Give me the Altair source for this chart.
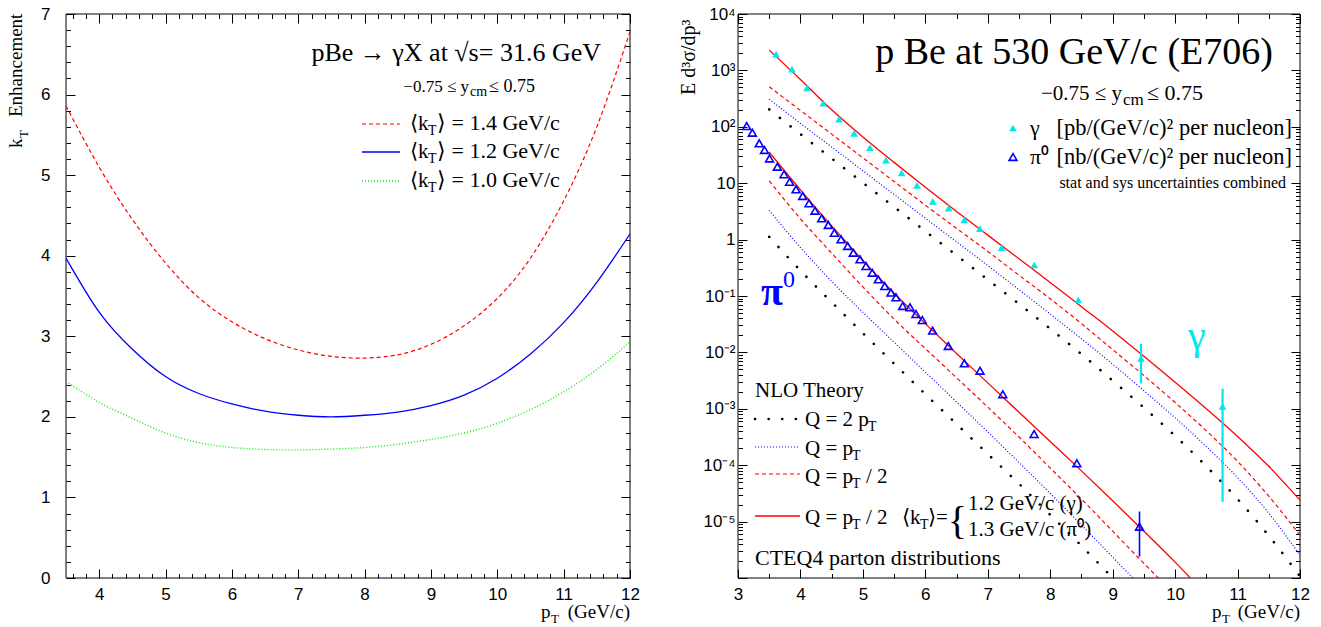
import altair as alt
import pandas as pd

# ---------------- layout (page pixels) ----------------
OX, OY = 66, 14          # top-left of the drawing area on the page
W, H = 1234, 564         # whole drawing area (both panels)
LW = 564                 # left panel width
RX0, RX1 = 672, 1234     # right panel x-range inside drawing area

# ---------------- left panel data: kT enhancement ----------------
kt_pt = [3.5, 4.0, 4.5, 5.0, 5.5, 6.0, 6.5, 7.0, 7.5, 8.0, 8.5, 9.0, 9.5, 10.0, 10.5, 11.0, 11.5, 12.0]
kt_14 = [5.86, 5.10, 4.45, 3.91, 3.48, 3.18, 2.97, 2.83, 2.75, 2.73, 2.77, 2.90, 3.13, 3.47, 3.97, 4.68, 5.60, 6.78]
kt_12 = [3.97, 3.30, 2.84, 2.50, 2.29, 2.16, 2.07, 2.02, 2.00, 2.02, 2.06, 2.14, 2.27, 2.48, 2.78, 3.17, 3.67, 4.27]
kt_10 = [2.44, 2.18, 1.98, 1.80, 1.68, 1.62, 1.595, 1.59, 1.60, 1.62, 1.66, 1.72, 1.80, 1.92, 2.09, 2.31, 2.59, 2.93]

# ---------------- right panel data: E706 cross sections ----------------
g_pt = [3.61, 3.865, 4.105, 4.366, 4.618, 4.86, 5.114, 5.37, 5.62, 5.866, 6.12, 6.374, 6.624, 6.875,
        7.22, 7.745, 8.45, 9.454, 10.76]
g_val = [1950, 1050, 490, 263, 136, 76.7, 42.7, 25.7, 15.3, 9.18, 4.78, 3.63, 2.23, 1.56,
         0.72, 0.355, 0.085, 7.85e-3, 1.10e-3]
g_err_pt = [9.454, 10.76]
g_err_hi = [1.41e-2, 2.29e-3]
g_err_lo = [2.82e-3, 2.24e-5]

p_pt = [3.139, 3.23, 3.34, 3.425, 3.505, 3.63, 3.737, 3.827, 3.93, 4.036, 4.137, 4.233, 4.34, 4.447,
        4.543, 4.65, 4.756, 4.847, 4.954, 5.05, 5.15, 5.247, 5.35, 5.45, 5.53, 5.637, 5.754, 5.85,
        5.952, 6.117, 6.368, 6.625, 6.876, 7.24, 7.742, 8.426, 9.43]
p_val = [103, 78.5, 50.9, 38.9, 27.5, 19.6, 14.4, 10.6, 7.76, 5.93, 4.40, 3.25, 2.38, 1.82,
         1.32, 1.01, 0.771, 0.586, 0.447, 0.340, 0.259, 0.197, 0.150, 0.115, 0.0948, 0.0665, 0.0631, 0.0479,
         0.0375, 0.0243, 0.0130, 6.4e-3, 4.74e-3, 1.81e-3, 3.57e-4, 1.08e-4, 8.13e-6]
p_err_pt = [9.43]
p_err_hi = [1.51e-5]
p_err_lo = [2.40e-6]

th_pt = [3.5, 4.0, 4.5, 5.0, 5.5, 6.0, 6.5, 7.0, 7.5, 8.0, 8.5, 9.0, 9.5, 10.0, 10.5, 11.0, 11.5, 12.0]
g_kt   = [2290, 692, 200, 66.1, 23.4, 8.51, 3.16, 1.20, 0.457, 0.174, 0.0646, 0.024, 8.51e-3, 2.95e-3, 1.0e-3, 3.24e-4, 9.55e-5, 2.40e-5]
g_half = [513, 195, 74.1, 28.2, 10.7, 4.07, 1.58, 0.617, 0.234, 0.0891, 0.0324, 0.0112, 3.89e-3, 1.29e-3, 4.07e-4, 1.17e-4, 2.82e-5, 5.75e-6]
g_one  = [309, 115, 43.7, 16.6, 6.31, 2.40, 0.912, 0.347, 0.129, 0.0479, 0.0174, 6.17e-3, 2.09e-3, 6.92e-4, 2.14e-4, 6.03e-5, 1.41e-5, 2.51e-6]
g_two  = [204, 74.1, 27.5, 10.2, 3.80, 1.41, 0.525, 0.195, 0.0724, 0.0263, 9.33e-3, 3.16e-3, 1.05e-3, 3.31e-4, 9.55e-5, 2.51e-5, 5.62e-6, 1.07e-6]

pth_pt = [3.5, 4.0, 4.5, 5.0, 5.5, 6.0, 6.5, 7.0, 7.5, 8.0, 8.5, 9.0, 9.5, 10.0, 10.5]
p_kt   = [35.5, 7.59, 1.74, 0.427, 0.112, 0.0324, 9.55e-3, 2.88e-3, 8.71e-4, 2.63e-4, 7.94e-5, 2.34e-5, 6.76e-6, 1.91e-6, 5.0e-7]
p_half = [11.0, 2.34, 0.575, 0.145, 0.0389, 0.0117, 3.55e-3, 1.07e-3, 3.16e-4, 8.91e-5, 2.51e-5, 6.76e-6, 1.82e-6, 5.0e-7, 1.4e-7]
p_one  = [3.31, 0.724, 0.182, 0.0513, 0.0151, 4.47e-3, 1.32e-3, 3.89e-4, 1.12e-4, 3.16e-5, 8.71e-6, 2.34e-6, 6.31e-7, 1.7e-7, 4.5e-8]
p_two  = [1.12, 0.282, 0.0776, 0.0219, 6.31e-3, 1.82e-3, 5.37e-4, 1.58e-4, 4.68e-5, 1.32e-5, 3.72e-6, 1.0e-6, 2.69e-7, 7.0e-8, 1.8e-8]

# ---------------- styling ----------------
SERIF = "Liberation Serif"
SANS = "Liberation Sans"
CYAN = "#00e8ee"
BLUE = "#0000ff"
RED = "#ff0000"
GREEN = "#00ee00"
DOT_BLACK = [0.1, 13.5]
DOT_FINE = [1, 2]
DASH = [4, 3]


def xs_left():
    return alt.Scale(domain=[3.5, 12], range=[0, LW], nice=False, zero=False)


def ys_left():
    return alt.Scale(domain=[0, 7], range=[H, 0], nice=False, zero=False)


def xs_right():
    return alt.Scale(domain=[3, 12], range=[RX0, RX1], nice=False, zero=False)


def ys_right():
    return alt.Scale(type="log", domain=[1e-6, 1e4], range=[H, 0], nice=False)


def curve(xv, yv, xs, ys, color, dash=None, width=1.2, cap="butt", interp="monotone"):
    df = pd.DataFrame({"x": xv, "y": yv})
    kw = dict(color=color, strokeWidth=width, clip=True, interpolate=interp, strokeCap=cap)
    if dash is not None:
        kw["strokeDash"] = dash
    return alt.Chart(df).mark_line(**kw).encode(
        x=alt.X("x:Q", scale=xs, axis=None),
        y=alt.Y("y:Q", scale=ys, axis=None),
    )


def ax(orient, values, size, offset, labels=False, **kw):
    return alt.Axis(orient=orient, values=values, tickSize=size, offset=offset, domain=False,
                    grid=False, labels=labels, ticks=True, title=None, tickColor="black",
                    tickWidth=1, labelFlush=False, labelOverlap=False, labelBound=False,
                    labelFont=SANS, labelFontSize=17, labelColor="black", **kw)


def axis_layer(xs, ys, x0, y0, xaxis, yaxis):
    df = pd.DataFrame({"x": [x0], "y": [y0]})
    return alt.Chart(df).mark_point(opacity=0).encode(
        x=alt.X("x:Q", scale=xs, axis=xaxis),
        y=alt.Y("y:Q", scale=ys, axis=yaxis),
    )


layers = []

# frames
frame_df = pd.DataFrame({"a": [0]})
for x0, x1 in [(0, LW), (RX0, RX1)]:
    layers.append(alt.Chart(frame_df).mark_rect(filled=False, color="black", strokeWidth=1).encode(
        x=alt.value(x0), x2=alt.value(x1), y=alt.value(0), y2=alt.value(H)))

# ---------- left panel curves ----------
layers.append(curve(kt_pt, kt_14, xs_left(), ys_left(), RED, DASH, 1.2, interp="natural"))
layers.append(curve(kt_pt, kt_12, xs_left(), ys_left(), BLUE, None, 1.3, interp="natural"))
layers.append(curve(kt_pt, kt_10, xs_left(), ys_left(), GREEN, DOT_FINE, 1.4, interp="natural"))

# ---------- left panel axes ----------
L_xmaj = list(range(4, 13))
L_xmin = [round(3.6 + 0.2 * i, 1) for i in range(43)]
L_xmin = [v for v in L_xmin if v <= 12 and abs(v - round(v)) > 1e-6]
L_ymaj = list(range(0, 8))
L_ymin = [round(0.2 * i, 1) for i in range(35) if i % 5 != 0]

layers.append(axis_layer(xs_left(), ys_left(), 3.5, 0,
                         ax("bottom", L_xmaj, 9, -9, True, labelPadding=8),
                         ax("left", L_ymaj, 9, -9, True, labelPadding=16)))
layers.append(axis_layer(xs_left(), ys_left(), 3.5, 0,
                         ax("bottom", L_xmin, 4.5, -4.5),
                         ax("left", L_ymin, 4.5, -4.5)))
layers.append(axis_layer(xs_left(), ys_left(), 3.5, 0,
                         ax("top", L_xmaj, 9, -9),
                         ax("right", L_ymaj, 9, LW - 9 - W)))
layers.append(axis_layer(xs_left(), ys_left(), 3.5, 0,
                         ax("top", L_xmin, 4.5, -4.5),
                         ax("right", L_ymin, 4.5, LW - 4.5 - W)))

# ---------- right panel curves ----------
XR, YR = xs_right, ys_right
layers.append(curve(th_pt, g_two, XR(), YR(), "black", DOT_BLACK, 2.6, "round"))
layers.append(curve(th_pt, g_one, XR(), YR(), BLUE, DOT_FINE, 1.2))
layers.append(curve(th_pt, g_half, XR(), YR(), RED, DASH, 1.2))
layers.append(curve(th_pt, g_kt, XR(), YR(), RED, None, 1.3))
layers.append(curve(pth_pt, p_two, XR(), YR(), "black", DOT_BLACK, 2.6, "round"))
layers.append(curve(pth_pt, p_one, XR(), YR(), BLUE, DOT_FINE, 1.2))
layers.append(curve(pth_pt, p_half, XR(), YR(), RED, DASH, 1.2))
layers.append(curve(pth_pt, p_kt, XR(), YR(), RED, None, 1.3))

# error bars
gerr = pd.DataFrame({"x": g_err_pt, "hi": g_err_hi, "lo": g_err_lo})
perr = pd.DataFrame({"x": p_err_pt, "hi": p_err_hi, "lo": p_err_lo})
layers.append(alt.Chart(gerr).mark_rule(color=CYAN, strokeWidth=2.2).encode(
    x=alt.X("x:Q", scale=XR(), axis=None), y=alt.Y("hi:Q", scale=YR(), axis=None), y2="lo:Q"))
layers.append(alt.Chart(perr).mark_rule(color=BLUE, strokeWidth=1.6).encode(
    x=alt.X("x:Q", scale=XR(), axis=None), y=alt.Y("hi:Q", scale=YR(), axis=None), y2="lo:Q"))

# points
gdf = pd.DataFrame({"x": g_pt, "y": g_val})
pdf = pd.DataFrame({"x": p_pt, "y": p_val})
layers.append(alt.Chart(gdf).mark_point(shape="triangle-up", filled=True, size=60, color=CYAN, opacity=1).encode(
    x=alt.X("x:Q", scale=XR(), axis=None), y=alt.Y("y:Q", scale=YR(), axis=None)))
layers.append(alt.Chart(pdf).mark_point(shape="triangle-up", filled=False, size=62, color=BLUE,
                                        strokeWidth=1.6, opacity=1).encode(
    x=alt.X("x:Q", scale=XR(), axis=None), y=alt.Y("y:Q", scale=YR(), axis=None)))

# ---------- right panel axes ----------
SUP = {"-": "\u207b", "0": "\u2070", "1": "\u00b9", "2": "\u00b2", "3": "\u00b3",
       "4": "\u2074", "5": "\u2075", "6": "\u2076"}
R_ymaj = [10.0 ** k for k in range(-6, 5)]
R_ymin = [m * 10.0 ** k for k in range(-6, 4) for m in range(2, 10)]
R_xmaj = list(range(3, 13))
R_xmin = [k + 0.5 for k in range(3, 12)]


def lab(k):
    if k == 0:
        return "1"
    if k == 1:
        return "10"
    return "10" + "".join(SUP[c] for c in str(k))


expr = "''"
for k in range(-5, 5):
    expr = f"datum.value > {10.0 ** (k - 0.5)!r} && datum.value < {10.0 ** (k + 0.5)!r} ? '{lab(k)}' : " + expr

layers.append(axis_layer(XR(), YR(), 3, 1,
                         ax("bottom", R_xmaj, 9, -9, True, labelPadding=8),
                         ax("left", R_ymaj, 9, -(RX0 + 9), True, labelPadding=3, labelExpr=expr)))
layers.append(axis_layer(XR(), YR(), 3, 1,
                         ax("bottom", R_xmin, 4.5, -4.5),
                         ax("left", R_ymin, 4.5, -(RX0 + 4.5))))
layers.append(axis_layer(XR(), YR(), 3, 1,
                         ax("top", R_xmaj, 9, -9),
                         ax("right", R_ymaj, 9, -9)))
layers.append(axis_layer(XR(), YR(), 3, 1,
                         ax("top", R_xmin, 4.5, -4.5),
                         ax("right", R_ymin, 4.5, -4.5)))

# ---------- legend samples (page coords) ----------
samples = [
    (362, 400, 124, RED, DASH, 1.2, "butt"),
    (362, 400, 152, BLUE, None, 1.3, "butt"),
    (362, 400, 181, GREEN, DOT_FINE, 1.4, "butt"),
    (755, 800, 419, "black", DOT_BLACK, 2.6, "round"),
    (755, 800, 447, BLUE, DOT_FINE, 1.2, "butt"),
    (755, 800, 474, RED, DASH, 1.2, "butt"),
    (755, 800, 516, RED, None, 1.3, "butt"),
]
for x0, x1, yy, col, dash, wdt, cap in samples:
    kw = dict(color=col, strokeWidth=wdt, strokeCap=cap)
    if dash is not None:
        kw["strokeDash"] = dash
    layers.append(alt.Chart(frame_df).mark_rule(**kw).encode(
        x=alt.value(x0 - OX), x2=alt.value(x1 - OX), y=alt.value(yy - OY)))

layers.append(alt.Chart(frame_df).mark_point(shape="triangle-up", filled=True, size=60, color=CYAN, opacity=1).encode(
    x=alt.value(1013 - OX), y=alt.value(128 - OY)))
layers.append(alt.Chart(frame_df).mark_point(shape="triangle-up", filled=False, size=62, color=BLUE,
                                             strokeWidth=1.6, opacity=1).encode(
    x=alt.value(1013 - OX), y=alt.value(157 - OY)))

# ---------- annotations (page coords): text, x, y(baseline), size, color, align, weight, angle ----------
ann = [
    # left panel
    ("pBe \u2192 \u03b3X at \u221as= 31.6 GeV", 601, 61, 26, "black", "right", "normal", 0),
    ("\u22120.75 \u2264 y", 469, 92, 17, "black", "right", "normal", 0),
    ("cm", 470, 96, 14, "black", "left", "normal", 0),
    ("\u2264 0.75", 489, 92, 18, "black", "left", "normal", 0),
    ("\u27e8k", 410, 130, 21, "black", "left", "normal", 0),
    ("T", 428, 135, 14, "black", "left", "normal", 0),
    ("\u27e9 = 1.4 GeV/c", 437, 130, 22, "black", "left", "normal", 0),
    ("\u27e8k", 410, 158, 21, "black", "left", "normal", 0),
    ("T", 428, 163, 14, "black", "left", "normal", 0),
    ("\u27e9 = 1.2 GeV/c", 437, 158, 22, "black", "left", "normal", 0),
    ("\u27e8k", 410, 187, 21, "black", "left", "normal", 0),
    ("T", 428, 192, 14, "black", "left", "normal", 0),
    ("\u27e9 = 1.0 GeV/c", 437, 187, 22, "black", "left", "normal", 0),
    ("p", 541, 618, 19, "black", "left", "normal", 0),
    ("T", 551, 623, 13, "black", "left", "normal", 0),
    ("(GeV/c)", 630, 618, 19, "black", "right", "normal", 0),
    ("k", 22, 148, 19, "black", "left", "normal", 270),
    ("T", 28, 138, 13, "black", "left", "normal", 270),
    ("Enhancement", 22, 117, 19, "black", "left", "normal", 270),
    # right panel
    ("p Be at 530 GeV/c (E706)", 1273, 64, 38, "black", "right", "normal", 0),
    ("\u22120.75 \u2264 y", 1122, 100, 21, "black", "right", "normal", 0),
    ("cm", 1123, 105, 17, "black", "left", "normal", 0),
    ("\u2264 0.75", 1147, 100, 22, "black", "left", "normal", 0),
    ("\u03b3", 1030, 135, 22, "black", "left", "normal", 0),
    ("[pb/(GeV/c)\u00b2 per nucleon]", 1292, 135, 22.5, "black", "right", "normal", 0),
    ("\u03c0\u2070", 1030, 164, 22, "black", "left", "normal", 0),
    ("[nb/(GeV/c)\u00b2 per nucleon]", 1292, 164, 22.5, "black", "right", "normal", 0),
    ("stat and sys uncertainties combined", 1286, 188, 16, "black", "right", "normal", 0),
    ("\u03c0", 761, 305, 40, BLUE, "left", "bold", 0),
    ("0", 783, 287, 24, BLUE, "left", "normal", 0),
    ("\u03b3", 1188, 349, 40, CYAN, "left", "normal", 0),
    ("NLO Theory", 755, 397, 21, "black", "left", "normal", 0),
    ("Q = 2 p", 805, 426, 21, "black", "left", "normal", 0),
    ("T", 868, 431, 14, "black", "left", "normal", 0),
    ("Q = p", 805, 455, 21, "black", "left", "normal", 0),
    ("T", 852, 460, 14, "black", "left", "normal", 0),
    ("Q = p", 805, 483, 21, "black", "left", "normal", 0),
    ("T", 852, 488, 14, "black", "left", "normal", 0),
    ("/ 2", 866, 483, 21, "black", "left", "normal", 0),
    ("Q = p", 805, 524, 21, "black", "left", "normal", 0),
    ("T", 852, 529, 14, "black", "left", "normal", 0),
    ("/ 2", 866, 524, 21, "black", "left", "normal", 0),
    ("\u27e8k", 902, 524, 21, "black", "left", "normal", 0),
    ("T", 920, 529, 14, "black", "left", "normal", 0),
    ("\u27e9=", 928, 524, 21, "black", "left", "normal", 0),
    ("{", 967, 534, 40, "black", "right", "normal", 0),
    ("1.2 GeV/c (\u03b3)", 968, 510, 21, "black", "left", "normal", 0),
    ("1.3 GeV/c (\u03c0\u2070)", 968, 536, 21, "black", "left", "normal", 0),
    ("CTEQ4 parton distributions", 755, 565, 22, "black", "left", "normal", 0),
    ("p", 1212, 618, 19, "black", "left", "normal", 0),
    ("T", 1222, 623, 13, "black", "left", "normal", 0),
    ("(GeV/c)", 1300, 618, 19, "black", "right", "normal", 0),
    ("E d\u00b3\u03c3/dp\u00b3", 695, 95, 20, "black", "left", "normal", 270),
]
ann_df = pd.DataFrame(ann, columns=["text", "x", "y", "size", "color", "align", "weight", "angle"])
ann_df["x"] = ann_df["x"] - OX
ann_df["y"] = ann_df["y"] - OY

for (al, wt, an), grp in ann_df.groupby(["align", "weight", "angle"]):
    kw = dict(font=SERIF, align=al, baseline="alphabetic", fontWeight=wt)
    if an:
        kw["angle"] = int(an)
    layers.append(alt.Chart(grp.reset_index(drop=True)).mark_text(**kw).encode(
        x=alt.X("x:Q", scale=None, axis=None),
        y=alt.Y("y:Q", scale=None, axis=None),
        text="text:N",
        size=alt.Size("size:Q", scale=None, legend=None),
        color=alt.Color("color:N", scale=None, legend=None),
    ))

chart = alt.layer(*layers).resolve_scale(
    x="independent", y="independent"
).resolve_axis(
    x="independent", y="independent"
).properties(
    width=W, height=H,
    autosize=alt.AutoSizeParams(type="none"),
    padding={"left": OX, "top": OY, "right": 1321 - OX - W, "bottom": 627 - OY - H},
    background="white",
).configure_view(stroke=None)

chart.save("out.html", embed_options={"renderer": "svg", "actions": False})
